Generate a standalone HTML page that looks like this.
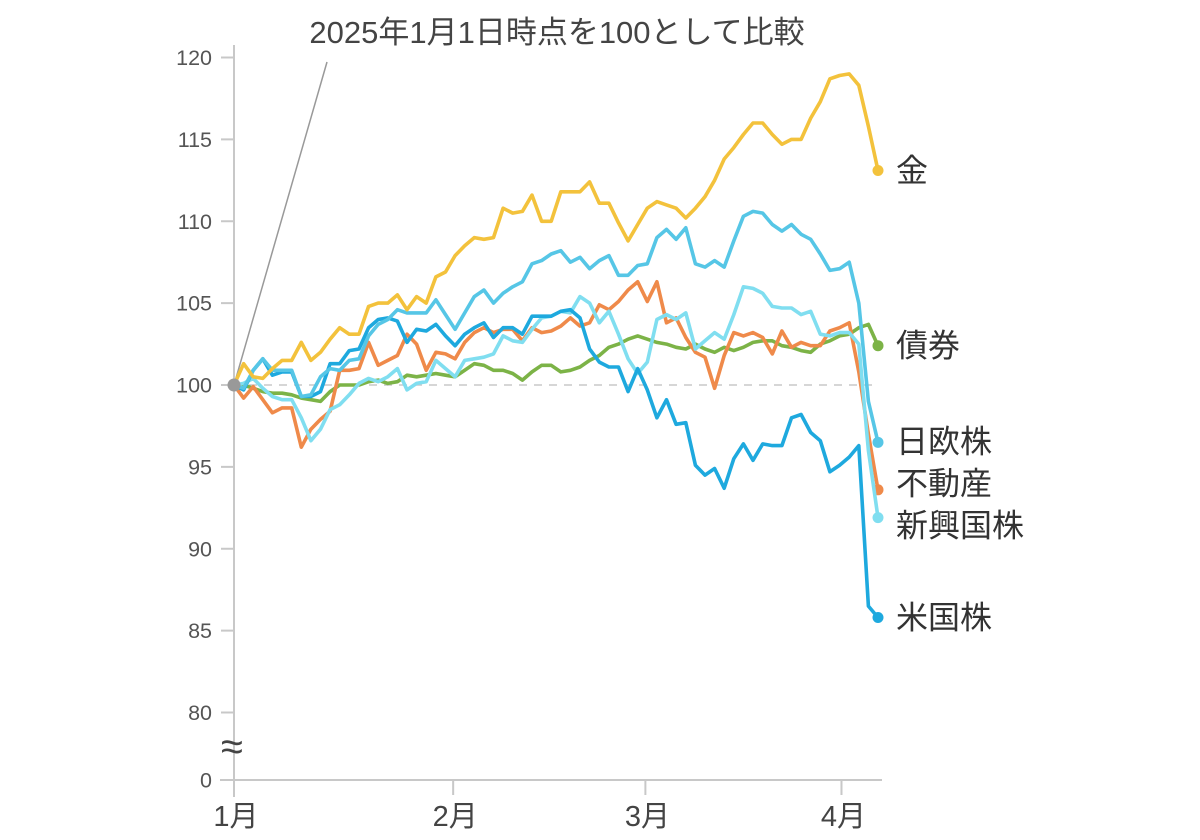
<!DOCTYPE html>
<html><head><meta charset="utf-8">
<style>
html,body{margin:0;padding:0;background:#fff;}
svg{display:block;font-family:"Liberation Sans","Noto Sans CJK JP",sans-serif;}
</style></head>
<body>
<svg id="chart" width="1200" height="840" viewBox="0 0 1200 840" xmlns="http://www.w3.org/2000/svg">
  <text x="557" y="43" text-anchor="middle" font-size="31" fill="#444">2025年1月1日時点を100として比較</text>
  <g id="axes"></g>
  <g id="series"></g>
  <g id="labels"></g>
</svg>
<script>
const seriesNames = ["金","債券","日欧株","不動産","新興国株","米国株"];
const seriesColors = ["#f3c23c","#7cb347","#56c6e6","#ef8a4a","#80def0","#1ea9de"];
const gold = [100,101.3,100.5,100.4,101.0,101.5,101.5,102.6,101.5,102.0,102.8,103.5,103.1,103.1,104.8,105.0,105.0,105.5,104.6,105.4,105.0,106.6,106.9,107.9,108.5,109.0,108.9,109.0,110.8,110.5,110.6,111.6,110.0,110.0,111.8,111.8,111.8,112.4,111.1,111.1,109.9,108.8,109.8,110.8,111.2,111.0,110.8,110.2,110.8,111.5,112.5,113.8,114.5,115.3,116.0,116.0,115.3,114.7,115.0,115.0,116.3,117.3,118.7,118.9,119.0,118.3,115.8,113.1];
const bonds = [100,100.0,99.8,99.6,99.5,99.5,99.4,99.2,99.1,99.0,99.6,100.0,100.0,100.0,100.2,100.3,100.1,100.2,100.6,100.5,100.6,100.7,100.6,100.5,100.9,101.3,101.2,100.9,100.9,100.7,100.3,100.8,101.2,101.2,100.8,100.9,101.1,101.5,101.8,102.3,102.5,102.8,103.0,102.8,102.6,102.5,102.3,102.2,102.5,102.2,102.0,102.3,102.1,102.3,102.6,102.7,102.7,102.4,102.3,102.1,102.0,102.5,102.7,103.0,103.1,103.5,103.7,102.4];
const jpEu = [100,99.8,100.9,101.6,100.9,100.9,100.9,99.3,99.4,100.5,101.0,100.9,101.5,101.6,103.0,103.7,104.0,104.6,104.4,104.4,104.4,105.2,104.3,103.4,104.4,105.4,105.8,105.0,105.6,106.0,106.3,107.4,107.6,108.0,108.2,107.5,107.8,107.1,107.6,107.9,106.7,106.7,107.3,107.4,109.0,109.5,108.9,109.6,107.4,107.2,107.6,107.2,108.8,110.3,110.6,110.5,109.8,109.4,109.8,109.2,108.9,108.0,107.0,107.1,107.5,105.0,99.0,96.5];
const reit = [100,99.2,99.9,99.1,98.3,98.6,98.6,96.2,97.3,97.9,98.4,100.9,100.9,101.0,102.6,101.2,101.5,101.8,103.1,102.5,100.9,102.0,101.9,101.6,102.6,103.2,103.5,103.2,103.4,103.4,102.7,103.5,103.2,103.3,103.6,104.1,103.6,103.8,104.9,104.6,105.1,105.8,106.3,105.1,106.3,103.8,104.1,102.9,102.0,101.7,99.8,101.8,103.2,103.0,103.2,102.9,101.9,103.3,102.3,102.6,102.4,102.4,103.3,103.5,103.8,100.8,97.0,93.6];
const emerging = [100,100.1,100.4,99.8,99.3,99.1,99.1,98.0,96.6,97.3,98.5,98.8,99.4,100.1,100.4,100.2,100.5,101.0,99.7,100.1,100.2,101.5,101.0,100.5,101.5,101.6,101.7,101.9,103.0,102.7,102.6,103.4,104.1,104.2,104.5,104.4,105.4,105.0,103.8,104.5,103.1,101.6,100.7,101.4,104.0,104.3,104.0,104.4,102.2,102.7,103.2,102.8,104.3,106.0,105.9,105.6,104.8,104.7,104.7,104.3,104.5,103.1,103.0,103.2,103.2,102.5,96.0,91.9];
const usStocks = [100,99.7,100.9,101.6,100.6,100.8,100.8,99.3,99.3,99.6,101.3,101.3,102.1,102.2,103.5,104.0,104.1,103.9,102.6,103.4,103.3,103.7,103.0,102.4,103.1,103.5,103.8,102.9,103.5,103.5,103.1,104.2,104.2,104.2,104.5,104.6,104.1,102.2,101.4,101.1,101.1,99.6,101.0,99.7,98.0,99.1,97.6,97.7,95.1,94.5,94.9,93.7,95.5,96.4,95.4,96.4,96.3,96.3,98.0,98.2,97.1,96.6,94.7,95.1,95.6,96.3,86.5,85.8];
const yTickValues = [80,85,90,95,100,105,110,115,120];
const yTickLabels = ["80","85","90","95","100","105","110","115","120"];
const monthLabels = ["1月","2月","3月","4月"];
const monthTickIndex = [0,22.8,42.8,63.2];

const seriesData = [gold,bonds,jpEu,reit,emerging,usStocks];
const NS = "http://www.w3.org/2000/svg";
const X0 = 234, X1 = 878;
const nPts = gold.length;
function xScale(i){ return X0 + (X1 - X0) * i / (nPts - 1); }
function yScale(v){ return 385 - (v - 100) * 16.375; }
function mk(tag, attrs, parent){ const e = document.createElementNS(NS, tag); for (const k in attrs) e.setAttribute(k, attrs[k]); parent.appendChild(e); return e; }

const axes = document.getElementById('axes');
const axisColor = "#c8c8c8";
const yAxis = mk('line',{x1:X0,y1:45,x2:X0,y2:797,stroke:axisColor,'stroke-width':2},axes);


const xAxis = mk('line',{x1:220,y1:780,x2:882,y2:780,stroke:axisColor,'stroke-width':2},axes);


const base = mk('line',{x1:X0,y1:yScale(100),x2:X1,y2:yScale(100),stroke:"#c8c8c8",'stroke-width':1.5,'stroke-dasharray':'8 7'},axes);


yTickValues.forEach((v,k)=>{
  const y = yScale(v);
  const t = mk('line',{x1:221,y1:y,x2:X0,y2:y,stroke:axisColor,'stroke-width':2},axes);
  
  
  const l = mk('text',{x:212,y:y+7.5,'text-anchor':'end','font-size':21.5,fill:'#555'},axes);
  l.textContent = yTickLabels[k];
  
  
});
const zt = mk('line',{x1:221,y1:780,x2:X0,y2:780,stroke:axisColor,'stroke-width':2},axes);


const zl = mk('text',{x:212,y:787.5,'text-anchor':'end','font-size':21.5,fill:'#555'},axes);
zl.textContent = "0";


const brk = mk('text',{x:232,y:760,'text-anchor':'middle','font-size':40,fill:'#444'},axes);
brk.textContent = "≈";


monthTickIndex.forEach((mi,k)=>{
  const x = xScale(mi);
  const t = mk('line',{x1:x,y1:780,x2:x,y2:795,stroke:axisColor,'stroke-width':2},axes);
  
  
  const l = mk('text',{x:x+2,y:826,'text-anchor':'middle','font-size':29,fill:'#444'},axes);
  l.textContent = monthLabels[k];
  
  
});
const lead = mk('line',{x1:327,y1:62,x2:X0,y2:yScale(100),stroke:'#999','stroke-width':1.5},axes);



const sg = document.getElementById('series');
const drawOrder = [1,3,4,5,2,0];
drawOrder.forEach(s=>{
  const d = seriesData[s].map((v,i)=>(i?'L':'M')+xScale(i).toFixed(1)+','+yScale(v).toFixed(1)).join(' ');
  const p = mk('path',{d:d,fill:'none',stroke:seriesColors[s],'stroke-width':3.6,'stroke-linejoin':'round','stroke-linecap':'round'},sg);
  
  
  const last = seriesData[s][nPts-1];
  const c = mk('circle',{cx:xScale(nPts-1),cy:yScale(last),r:5.5,fill:seriesColors[s]},sg);
  
  
});
const origin = mk('circle',{cx:X0,cy:yScale(100),r:6.5,fill:'#999'},sg);



const lg = document.getElementById('labels');
let lab = seriesNames.map((n,s)=>({s:s,y:yScale(seriesData[s][nPts-1])}));
lab.sort((a,b)=>a.y-b.y);
for(let it=0;it<50;it++){
  for(let k=1;k<lab.length;k++){
    const gap = lab[k].y - lab[k-1].y;
    if(gap<42){ const m=(42-gap)/2; lab[k].y+=m; lab[k-1].y-=m; }
  }
}
lab.forEach(o=>{
  const t = mk('text',{x:896,y:o.y+11,'font-size':32,fill:'#333'},lg);
  t.textContent = seriesNames[o.s];
  
  
});
</script>
</body></html>
